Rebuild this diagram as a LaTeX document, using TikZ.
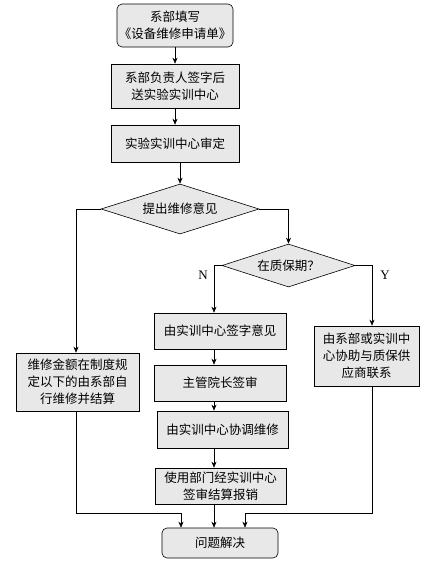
\documentclass[tikz,border=0pt]{standalone}
\usepackage{fontspec}
\setmainfont{Noto Sans CJK SC}
\newfontfamily\latinfont{Liberation Serif}
\usetikzlibrary{arrows.meta,shapes.geometric}

\definecolor{boxgray}{HTML}{E8E8E8}
\tikzset{
	stepbox/.style={draw, fill=boxgray, inner sep=0pt, align=center, font=\fontsize{12.5}{17}\selectfont},
	roundbox/.style={stepbox, rounded corners=5pt},
	decision/.style={diamond, draw, fill=boxgray, inner sep=0pt, aspect=3, font=\fontsize{12.5}{17}\selectfont},
	flow/.style={-{Stealth[length=6pt,width=5pt]}, line width=0.6pt}
}

\begin{document}
\begin{tikzpicture}[x=1pt, y=-1pt, line width=0.6pt]
		\useasboundingbox (0, 0) rectangle (435, 568);
		\draw (175, 25.5) node [roundbox, minimum width=116pt, minimum height=43pt] (apply) {系部填写\\《设备维修申请单》};
		\draw (175, 86) node [stepbox, minimum width=128pt, minimum height=44pt] (sign) {系部负责人签字后\\送实验实训中心};
		\draw (175, 143.5) node [stepbox, minimum width=128pt, minimum height=37pt] (review) {实验实训中心审定};
		\draw (180, 209) node [decision, minimum width=158pt, minimum height=50pt] (opinion) {提出维修意见};
		\draw (288.5, 265.5) node [decision, minimum width=133pt, minimum height=43pt] (warranty) {在质保期？};
		\draw (77.5, 382) node [stepbox, minimum width=123pt, minimum height=58pt] (self) {维修金额在制度规\\定以下的由系部自\\行维修并结算};
		\draw (220, 331) node [stepbox, minimum width=132pt, minimum height=36pt] (centre) {由实训中心签字意见};
		\draw (220, 383) node [stepbox, minimum width=132pt, minimum height=36pt] (dean) {主管院长签审};
		\draw (222.5, 429.5) node [stepbox, minimum width=131pt, minimum height=37pt] (repair) {由实训中心协调维修};
		\draw (220.5, 486) node [stepbox, minimum width=131pt, minimum height=36pt] (settle) {使用部门经实训中心\\签审结算报销};
		\draw (366.5, 356) node [stepbox, minimum width=105pt, minimum height=60pt] (supplier) {由系部或实训中\\心协助与质保供\\应商联系};
		\draw (220, 543) node [roundbox, minimum width=116pt, minimum height=30pt] (solved) {问题解决};
		\coordinate (spine) at (214, 0);
		\coordinate (merge) at (0, 513);
		\coordinate (inleft) at ([xshift=-39pt]solved.north);
		\coordinate (inright) at ([xshift=25pt]solved.north);
		\draw (203, 275) node [font=\latinfont\fontsize{13}{13}\selectfont] (no) {N};
		\draw (385, 275) node [font=\latinfont\fontsize{13}{13}\selectfont] (yes) {Y};
		\path [flow] (apply) edge (sign);
		\path [flow] (sign) edge (review);
		\draw [flow] (review.south -| opinion.north) -- (opinion.north);
		\draw [flow] (opinion.west) -| ([xshift=-1.5pt]self.north);
		\draw [flow] (opinion.east) -| (warranty.north);
		\draw [flow] (warranty.west) -| (centre.north -| spine);
		\draw [flow] (warranty.east) -| ([xshift=5.5pt]supplier.north);
		\draw [flow] (centre.south -| spine) -- (dean.north -| spine);
		\draw [flow] (dean.south -| spine) -- (repair.north -| spine);
		\draw [flow] (repair.south -| spine) -- (settle.north -| spine);
		\draw [flow] (settle.south -| spine) -- (solved.north -| spine);
		\draw [flow] ([xshift=-1.5pt]self.south) |- (merge -| inleft) -- (inleft);
		\draw [flow] ([xshift=5.5pt]supplier.south) |- (merge -| inright) -- (inright);
	\end{tikzpicture}
\end{document}
